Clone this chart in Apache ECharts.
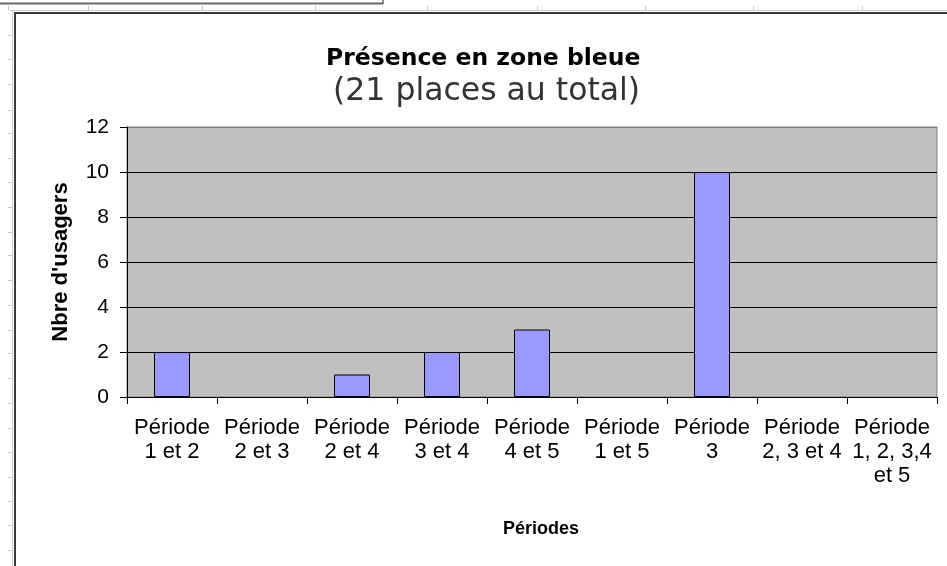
<!DOCTYPE html>
<html>
<head>
<meta charset="utf-8">
<script src="https://cdn.jsdelivr.net/npm/echarts@6/dist/echarts.min.js"></script>
<style>
html,body{margin:0;padding:0;background:#fff;}
#chart{width:947px;height:566px;}
</style>
</head>
<body>
<div id="chart"></div>
<script>
// ---- data ----
const categories = [
  'Période\n1 et 2', 'Période\n2 et 3', 'Période\n2 et 4', 'Période\n3 et 4',
  'Période\n4 et 5', 'Période\n1 et 5', 'Période\n3', 'Période\n2, 3 et 4',
  'Période\n1, 2, 3,4\net 5'
];
const usagers = [2, 0, 1, 2, 3, 0, 10, 0, 0];
const titleText = 'Présence en zone bleue';
const subtitleText = '(21 places au total)';
const yAxisName = "Nbre d'usagers";
const xAxisName = 'Périodes';
const yMin = 0, yMax = 12, yInterval = 2;

// spreadsheet backdrop decoration (column / row separators)
const colTicks = [8, 88, 202, 315, 427, 537, 645, 753, 862];
const rowTicks = [35, 59, 84, 110, 133, 158, 182, 207, 232, 255, 280, 305, 330, 353, 378, 403, 428, 452, 477, 501, 525, 550];

const decor = [];
decor.push({type:'line', shape:{x1:0,y1:3.5,x2:383,y2:3.5}, style:{stroke:'#666',lineWidth:2}, silent:true});
decor.push({type:'line', shape:{x1:383,y1:0,x2:383,y2:4}, style:{stroke:'#666',lineWidth:1.5}, silent:true});
decor.push({type:'line', shape:{x1:9,y1:10.5,x2:947,y2:10.5}, style:{stroke:'#cfcfcf',lineWidth:1}, silent:true});
decor.push({type:'line', shape:{x1:12.5,y1:10,x2:12.5,y2:566}, style:{stroke:'#cfcfcf',lineWidth:1}, silent:true});
colTicks.forEach(x => decor.push({type:'line', shape:{x1:x+0.5,y1:6,x2:x+0.5,y2:10}, style:{stroke:'#c4c4c4',lineWidth:1}, silent:true}));
rowTicks.forEach(y => decor.push({type:'line', shape:{x1:8,y1:y+0.5,x2:12,y2:y+0.5}, style:{stroke:'#c4c4c4',lineWidth:1}, silent:true}));
decor.push({type:'line', shape:{x1:14,y1:13,x2:947,y2:13}, style:{stroke:'#3a3a3a',lineWidth:2}, silent:true});
decor.push({type:'line', shape:{x1:15,y1:12,x2:15,y2:566}, style:{stroke:'#3a3a3a',lineWidth:2}, silent:true});

const barData = usagers.map(v => v === 0 ? {value: v, itemStyle: {borderWidth: 0}} : v);

const chart = echarts.init(document.getElementById('chart'), null, {renderer:'canvas'});
chart.setOption({
  animation: false,
  backgroundColor: '#ffffff',
  title: [
    {text: titleText, left: 326, top: 47, padding: 0,
     textStyle: {fontFamily: 'DejaVu Sans', fontWeight: 'bold', fontSize: 23.5, color: '#000'}},
    {text: subtitleText, left: 333, top: 76, padding: 0,
     textStyle: {fontFamily: 'DejaVu Sans', fontWeight: 'normal', fontSize: 31.5, color: '#333'}}
  ],
  graphic: decor,
  grid: {left: 127, right: 10, top: 127, bottom: 169, show: true,
         backgroundColor: '#C0C0C0', borderColor: '#808080', borderWidth: 1},
  xAxis: {
    type: 'category', data: categories,
    name: xAxisName, nameLocation: 'middle', nameGap: 123,
    nameTextStyle: {fontFamily: 'Liberation Sans', fontWeight: 'bold', fontSize: 18, color: '#000', padding: [0,0,0,18]},
    axisLine: {lineStyle: {color: '#000', width: 1}},
    axisTick: {show: true, alignWithLabel: false, length: 7, lineStyle: {color: '#000'}},
    axisLabel: {interval: 0, fontFamily: 'Liberation Sans', fontSize: 22, color: '#000', lineHeight: 24, margin: 19},
    splitLine: {show: false}
  },
  yAxis: {
    type: 'value', min: yMin, max: yMax, interval: yInterval,
    name: yAxisName, nameLocation: 'middle', nameGap: 55, nameRotate: 90,
    nameTextStyle: {fontFamily: 'Liberation Sans', fontWeight: 'bold', fontSize: 22, color: '#000'},
    axisLine: {show: true, lineStyle: {color: '#000', width: 1}},
    axisTick: {show: true, length: 7, lineStyle: {color: '#000'}},
    axisLabel: {fontFamily: 'Liberation Sans', fontSize: 21, color: '#000', margin: 18},
    splitLine: {show: true, lineStyle: {color: ['#000','#000','#000','#000','#000','#000','#808080'], width: 1}}
  },
  series: [{
    type: 'bar', data: barData, barCategoryGap: '60%',
    itemStyle: {color: '#9999FF', borderColor: '#000', borderWidth: 1}
  }]
});
</script>
</body>
</html>
